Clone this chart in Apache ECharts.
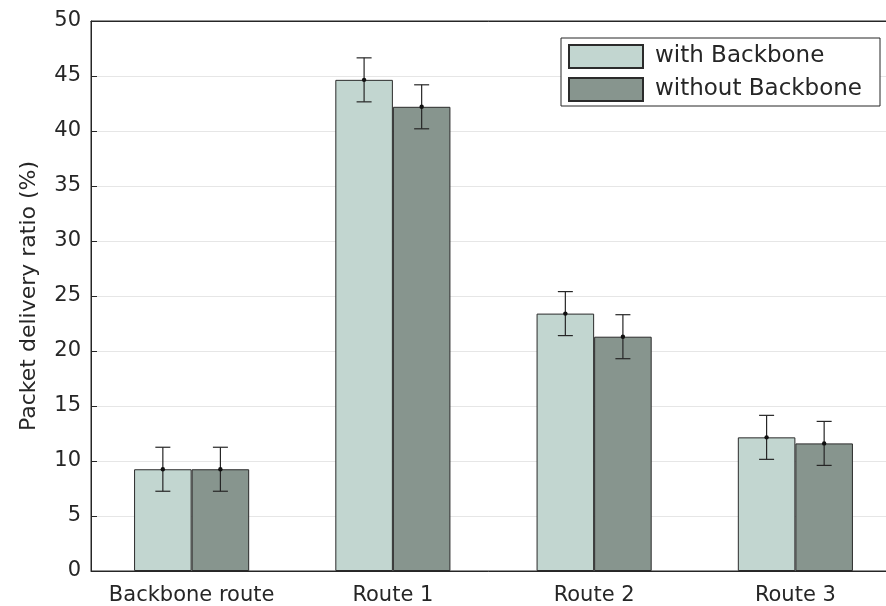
<!DOCTYPE html>
<html><head><meta charset="utf-8">
<script src="https://cdn.jsdelivr.net/npm/echarts@6/dist/echarts.min.js"></script>
<style>html,body{margin:0;padding:0;background:#fff}#c{width:886px;height:606px}</style>
</head><body><div id="c"></div>
<script>
const categories = ['Backbone route', 'Route 1', 'Route 2', 'Route 3'];
const withBackbone = [9.25, 44.65, 23.4, 12.15];
const withoutBackbone = [9.25, 42.2, 21.3, 11.6];
const errWith = [2.0, 2.0, 2.0, 2.0];
const errWithout = [2.0, 2.0, 2.0, 2.0];
const yTicks = [0, 5, 10, 15, 20, 25, 30, 35, 40, 45, 50];

const FONT = 'DejaVu Sans, Liberation Sans, Arial, sans-serif';
const BAR_FRAC = 0.286;
const chart = echarts.init(document.getElementById('c'), null, {renderer: 'canvas'});

function errSeries(name, vals, errs, sign) {
  return {
    type: 'custom', name: name + ' err', z: 10, silent: true,
    data: vals.map((v, i) => [i, v, errs[i]]),
    renderItem: function (params, api) {
      const band = api.size([1, 0])[0];
      const off = sign * band * BAR_FRAC / 2;
      const c = api.coord([api.value(0), api.value(1)]);
      const x = c[0] + off;
      const top = api.coord([api.value(0), api.value(1) + api.value(2)])[1];
      const bot = api.coord([api.value(0), api.value(1) - api.value(2)])[1];
      const hw = 7.5;
      const st = {stroke: '#262626', lineWidth: 1.2};
      return {type: 'group', children: [
        {type: 'line', shape: {x1: x, y1: top, x2: x, y2: bot}, style: st},
        {type: 'line', shape: {x1: x - hw, y1: top, x2: x + hw, y2: top}, style: st},
        {type: 'line', shape: {x1: x - hw, y1: bot, x2: x + hw, y2: bot}, style: st},
        {type: 'circle', shape: {cx: x, cy: c[1], r: 2.2}, style: {fill: '#111'}}
      ]};
    }
  };
}

chart.setOption({
  animation: false,
  textStyle: {fontFamily: FONT},
  grid: {left: 91, width: 805, top: 21, bottom: 35, outerBoundsMode: 'none', containLabel: false,
    show: true, borderColor: '#262626', borderWidth: 1, backgroundColor: 'transparent'},
  legend: {
    data: ['with Backbone', 'without Backbone'],
    orient: 'vertical', left: 561, top: 38,
    itemWidth: 74, itemHeight: 23, itemGap: 8,
    padding: [6, 18, 4, 7],
    borderColor: '#262626', borderWidth: 1, backgroundColor: '#fff',
    textStyle: {fontSize: 23, color: '#262626', fontFamily: FONT, padding: [0, 0, 0, 7]},
    icon: 'rect'
  },
  xAxis: [{
    type: 'category', data: categories,
    axisLine: {lineStyle: {color: '#262626', width: 1}},
    axisTick: {inside: true, alignWithLabel: true, length: 5, lineStyle: {color: '#262626'}},
    axisLabel: {interval: 0, fontSize: 21, color: '#262626', margin: 14, fontFamily: FONT},
    splitLine: {show: false}
  }, {
    type: 'category', data: categories, position: 'top',
    axisLine: {lineStyle: {color: '#262626', width: 1}},
    axisTick: {inside: true, alignWithLabel: true, length: 5, lineStyle: {color: '#262626'}},
    axisLabel: {show: false}
  }],
  yAxis: {
    type: 'value', min: 0, max: 50, interval: 5,
    name: 'Packet delivery ratio (%)', nameLocation: 'middle', nameGap: 51,
    nameTextStyle: {fontSize: 22, color: '#262626', fontFamily: FONT},
    axisLine: {show: true, lineStyle: {color: '#262626', width: 1}},
    axisTick: {show: true, inside: true, length: 6, lineStyle: {color: '#262626'}},
    axisLabel: {fontSize: 21, color: '#262626', margin: 10, fontFamily: FONT,
      formatter: v => yTicks.includes(v) ? String(v) : ''},
    splitLine: {show: true, lineStyle: {color: '#e6e6e6', width: 1}}
  },
  series: [
    {name: 'with Backbone', type: 'bar', data: withBackbone, barWidth: (BAR_FRAC * 100) + '%', barGap: '0%',
      itemStyle: {color: '#c2d6d0', borderColor: '#2b2b2b', borderWidth: 1}},
    {name: 'without Backbone', type: 'bar', data: withoutBackbone, barWidth: (BAR_FRAC * 100) + '%', barGap: '0%',
      itemStyle: {color: '#87958e', borderColor: '#2b2b2b', borderWidth: 1}},
    errSeries('with Backbone', withBackbone, errWith, -1),
    errSeries('without Backbone', withoutBackbone, errWithout, 1)
  ]
});
</script></body></html>
